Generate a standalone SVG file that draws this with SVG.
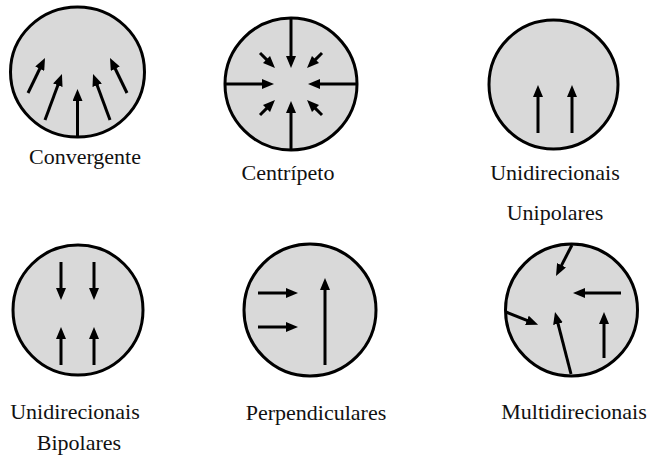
<svg xmlns="http://www.w3.org/2000/svg" width="655" height="455" viewBox="0 0 655 455">
<style>
.c{fill:#d9d9d9;stroke:#000;stroke-width:3}
.a{stroke:#000;stroke-width:3;fill:none;marker-end:url(#ah)}
.t{font-family:"Liberation Serif","Times New Roman",serif;font-size:22px;fill:#111;text-anchor:middle}
</style>
<defs>
<marker id="ah" viewBox="0 0 12 10" refX="2" refY="5" markerWidth="12" markerHeight="10" markerUnits="userSpaceOnUse" orient="auto">
<path d="M0,0 L12,5 L0,10 z" fill="#000"/>
</marker>
</defs>
<rect width="655" height="455" fill="#fff"/>
<g id="convergente">
<ellipse class="c" cx="77.5" cy="72" rx="67" ry="65"/>
<text class="t" x="85" y="164">Convergente</text>
</g>
<g id="centripeto">
<circle class="c" cx="291" cy="84" r="66"/>
<text class="t" x="288" y="180">Centrípeto</text>
</g>
<g id="unipolares">
<circle class="c" cx="553.5" cy="84.5" r="64.5"/>
<text class="t" x="555" y="180">Unidirecionais</text>
<text class="t" x="555" y="220">Unipolares</text>
</g>
<g id="bipolares">
<circle class="c" cx="78" cy="310" r="65"/>
<text class="t" x="75" y="419">Unidirecionais</text>
<text class="t" x="79" y="450">Bipolares</text>
</g>
<g id="perpendiculares">
<circle class="c" cx="310" cy="310" r="66"/>
<text class="t" x="316" y="420">Perpendiculares</text>
</g>
<g id="multidirecionais">
<circle class="c" cx="571.5" cy="310" r="66"/>
<text class="t" x="574" y="419">Multidirecionais</text>
</g>
<g id="connectors">
<line class="a" x1="28" y1="93" x2="40.6" y2="67"/>
<line class="a" x1="45" y1="120" x2="58.5" y2="83.4"/>
<line class="a" x1="77.5" y1="137" x2="77.5" y2="99"/>
<line class="a" x1="110" y1="120" x2="96.5" y2="83.4"/>
<line class="a" x1="127" y1="93" x2="114.4" y2="67"/>

<line class="a" x1="291" y1="18" x2="291" y2="58"/>
<line class="a" x1="291" y1="150" x2="291" y2="111"/>
<line class="a" x1="225" y1="84" x2="264" y2="84"/>
<line class="a" x1="357" y1="84" x2="318" y2="84"/>
<line class="a" x1="260" y1="53" x2="267.9" y2="60.9"/>
<line class="a" x1="322" y1="53" x2="314.1" y2="60.9"/>
<line class="a" x1="260" y1="115" x2="267.9" y2="107.1"/>
<line class="a" x1="322" y1="115" x2="314.1" y2="107.1"/>

<line class="a" x1="538" y1="133" x2="538" y2="95"/>
<line class="a" x1="572" y1="133" x2="572" y2="95"/>

<line class="a" x1="61" y1="262" x2="61" y2="290"/>
<line class="a" x1="94" y1="262" x2="94" y2="290"/>
<line class="a" x1="61" y1="365" x2="61" y2="337"/>
<line class="a" x1="94" y1="365" x2="94" y2="337"/>

<line class="a" x1="258" y1="293" x2="288" y2="293"/>
<line class="a" x1="258" y1="327" x2="288" y2="327"/>
<line class="a" x1="325" y1="365" x2="325" y2="288"/>

<line class="a" x1="572" y1="245" x2="560.6" y2="267.1"/>
<line class="a" x1="621" y1="293" x2="583" y2="293"/>
<line class="a" x1="506" y1="312" x2="528.8" y2="321.1"/>
<line class="a" x1="571" y1="374" x2="557.5" y2="321.7"/>
<line class="a" x1="604" y1="358" x2="604" y2="322"/>
</g>
</svg>
